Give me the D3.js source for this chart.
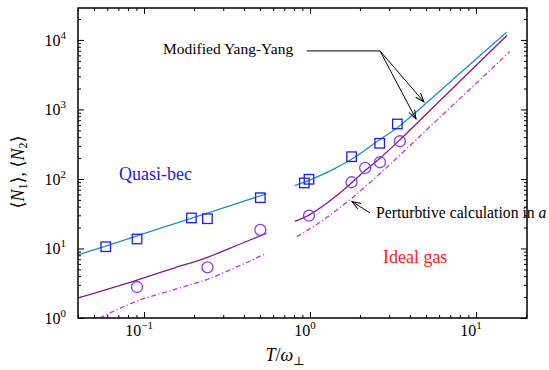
<!DOCTYPE html>
<html>
<head>
<meta charset="utf-8">
<script src="https://cdn.jsdelivr.net/npm/d3@7"></script>
<style>
  body { margin: 0; background: #fff; }
  text { font-family: "Liberation Serif", "Times New Roman", "DejaVu Serif", serif; }
</style>
</head>
<body>
<div id="wrapper"></div>
<script>
// markers (simulation)
const squareT = [0.0588, 0.0907, 0.193, 0.241, 0.502, 0.924, 0.986, 1.78, 2.63, 3.36];
const squareN = [10.6, 13.7, 27.5, 26.8, 53.8, 87.6, 99, 209, 326, 618];
const circleT = [0.0907, 0.241, 0.502, 0.986, 1.78, 2.15, 2.64, 3.48];
const circleN = [2.79, 5.36, 18.5, 29.6, 89.7, 144, 174, 349];

// modified Yang-Yang, <N1>
const yy1LowT = [0.04, 0.06, 0.09, 0.13, 0.19, 0.27, 0.38, 0.546];
const yy1LowN = [8.1, 11.0, 15.1, 20.1, 26.9, 35.3, 46.1, 61.2];
const yy1HighT = [0.81, 1.0, 1.4, 1.78, 2.6, 3.4, 4.6, 8, 15.3];
const yy1HighN = [80, 97, 140, 192, 360, 560, 1027, 3320, 12900];

// modified Yang-Yang, <N2>
const yy2LowT = [0.04, 0.0907, 0.15, 0.241, 0.38, 0.546];
const yy2LowN = [1.94, 3.52, 5.19, 7.47, 11.6, 16.5];
const yy2HighT = [0.81, 0.99, 1.4, 1.78, 2.15, 2.64, 3.48, 4.6, 8, 15.4];
const yy2HighN = [24.5, 30.5, 54, 88, 132, 199, 365, 700, 2550, 11700];

// perturbative calculation
const pertLowT = [0.054, 0.0907, 0.15, 0.241, 0.38, 0.533];
const pertLowN = [1.0, 1.75, 2.54, 3.6, 5.7, 8.3];
const pertHighT = [0.832, 1.2, 1.78, 3, 5.16, 8, 16];
const pertHighN = [14.8, 25.6, 52.7, 158, 536, 1431, 6790];

// ticks
const xMajor = [0.1, 1, 10];
const xMajorExp = ["\u22121", "0", "1"];
const yMajor = [1, 10, 100, 1000, 10000];
const yMajorExp = ["0", "1", "2", "3", "4"];

const zip = (a, b) => a.map((v, i) => [v, b[i]]);

const dms = {
  width: 549,
  height: 370,
  margins: { top: 8, right: 22, bottom: 52, left: 78 }
};
dms.innerWidth = dms.width - dms.margins.left - dms.margins.right;
dms.innerHeight = dms.height - dms.margins.top - dms.margins.bottom;

const svg = d3.select("#wrapper")
  .append("svg")
    .attr("width", dms.width)
    .attr("height", dms.height)
    .attr("font-family", "Liberation Serif, Times New Roman, serif");

const inner = svg.append("g")
  .attr("transform", `translate(${dms.margins.left},${dms.margins.top})`);

const xScale = d3.scaleLog().domain([0.04, 20.3]).range([0, dms.innerWidth]);
const yScale = d3.scaleLog().domain([1, 28800]).range([dms.innerHeight, 0]);

svg.append("defs").append("clipPath").attr("id", "clip")
  .append("rect").attr("width", dms.innerWidth).attr("height", dms.innerHeight);

svg.select("defs").append("marker")
  .attr("id", "arrow")
  .attr("markerUnits", "userSpaceOnUse")
  .attr("viewBox", "-10 -5 12 10")
  .attr("refX", 0).attr("refY", 0)
  .attr("markerWidth", 12).attr("markerHeight", 10)
  .attr("orient", "auto")
  .append("path")
    .attr("d", "M-9,-3.2L0,0L-9,3.2")
    .attr("fill", "none")
    .attr("stroke", "#000")
    .attr("stroke-width", 1);

// ticks
const minorOf = (domain) => {
  const out = [];
  for (let e = -3; e <= 6; e++) {
    for (let m = 2; m <= 9; m++) {
      const v = m * Math.pow(10, e);
      if (v >= domain[0] && v <= domain[1]) out.push(v);
    }
  }
  return out;
};
const xMinor = minorOf(xScale.domain());
const yMinor = minorOf(yScale.domain());

function tickAxis(gen, values, size, transform) {
  const g = inner.append("g")
    .attr("transform", transform)
    .call(gen.tickValues(values).tickSize(size).tickSizeOuter(0).tickFormat(""));
  g.select(".domain").remove();
  g.selectAll(".tick line").attr("stroke", "#000").attr("stroke-width", 1);
  return g;
}
tickAxis(d3.axisBottom(xScale), xMajor, -6, `translate(0,${dms.innerHeight})`);
tickAxis(d3.axisBottom(xScale), xMinor, -3, `translate(0,${dms.innerHeight})`);
tickAxis(d3.axisTop(xScale), xMajor, -6, "translate(0,0)");
tickAxis(d3.axisTop(xScale), xMinor, -3, "translate(0,0)");
tickAxis(d3.axisLeft(yScale), yMajor, -6, "translate(0,0)");
tickAxis(d3.axisLeft(yScale), yMinor, -3, "translate(0,0)");
tickAxis(d3.axisRight(yScale), yMajor, -6, `translate(${dms.innerWidth},0)`);
tickAxis(d3.axisRight(yScale), yMinor, -3, `translate(${dms.innerWidth},0)`);

// tick labels with superscripts
const xLabels = inner.append("g").selectAll("text")
  .data(xMajor)
  .join("text")
    .attr("x", d => xScale(d) - 5)
    .attr("y", dms.innerHeight + 18)
    .attr("text-anchor", "middle")
    .style("font-size", "16px");
xLabels.append("tspan").text("10");
xLabels.append("tspan")
  .attr("dy", -7)
  .style("font-size", "11px")
  .text((d, i) => xMajorExp[i]);

const yLabels = inner.append("g").selectAll("text")
  .data(yMajor)
  .join("text")
    .attr("x", -12)
    .attr("y", d => yScale(d) + 6)
    .attr("text-anchor", "end")
    .style("font-size", "16px");
yLabels.append("tspan").text("10");
yLabels.append("tspan")
  .attr("dy", -7)
  .style("font-size", "11px")
  .text((d, i) => yMajorExp[i]);

// curves
const line = d3.line()
  .x(d => xScale(d[0]))
  .y(d => yScale(d[1]))
  .curve(d3.curveMonotoneX);

const plot = inner.append("g").attr("clip-path", "url(#clip)");

const curves = [
  { pts: zip(yy1LowT, yy1LowN), color: "#1f8dd0", dash: null },
  { pts: zip(yy1HighT, yy1HighN), color: "#1f8dd0", dash: null },
  { pts: zip(yy2LowT, yy2LowN), color: "#8c1490", dash: null },
  { pts: zip(yy2HighT, yy2HighN), color: "#8c1490", dash: null },
  { pts: zip(pertLowT, pertLowN), color: "#cc30d8", dash: "5,2.5,1.2,2.5" },
  { pts: zip(pertHighT, pertHighN), color: "#cc30d8", dash: "5,2.5,1.2,2.5" }
];

plot.selectAll("path.curve")
  .data(curves)
  .join("path")
    .attr("class", "curve")
    .attr("d", d => line(d.pts))
    .attr("fill", "none")
    .attr("stroke", d => d.color)
    .attr("stroke-width", 1.3)
    .attr("stroke-dasharray", d => d.dash);

// markers
const sq = 9.5;
plot.selectAll("rect.sq")
  .data(zip(squareT, squareN))
  .join("rect")
    .attr("class", "sq")
    .attr("x", d => xScale(d[0]) - sq / 2)
    .attr("y", d => yScale(d[1]) - sq / 2)
    .attr("width", sq)
    .attr("height", sq)
    .attr("fill", "none")
    .attr("stroke", "#1c1cf0")
    .attr("stroke-width", 1.3);

plot.selectAll("circle.ci")
  .data(zip(circleT, circleN))
  .join("circle")
    .attr("class", "ci")
    .attr("cx", d => xScale(d[0]))
    .attr("cy", d => yScale(d[1]))
    .attr("r", 5.5)
    .attr("fill", "none")
    .attr("stroke", "#8a3ce6")
    .attr("stroke-width", 1.3);

// frame
inner.append("rect")
  .attr("width", dms.innerWidth)
  .attr("height", dms.innerHeight)
  .attr("fill", "none")
  .attr("stroke", "#000")
  .attr("stroke-width", 1.5);

// annotations (data coordinates)
const P = (t, n) => [xScale(t), yScale(n)];

const yyLabel = P(0.13, 6290);
inner.append("text")
  .attr("x", yyLabel[0]).attr("y", yyLabel[1])
  .style("font-size", "15.5px")
  .text("Modified Yang-Yang");

const leadA = P(0.955, 6950), leadB = P(2.64, 6950);
inner.append("line")
  .attr("x1", leadA[0]).attr("y1", leadA[1])
  .attr("x2", leadB[0]).attr("y2", leadB[1])
  .attr("stroke", "#000").attr("stroke-width", 1);

const arrowTips = [[4.86, 1282], [4.35, 730]];
inner.selectAll("line.arr")
  .data(arrowTips)
  .join("line")
    .attr("class", "arr")
    .attr("x1", leadB[0]).attr("y1", leadB[1])
    .attr("x2", d => xScale(d[0])).attr("y2", d => yScale(d[1]))
    .attr("stroke", "#000").attr("stroke-width", 1)
    .attr("marker-end", "url(#arrow)");

const pA = P(2.30, 32.4), pB = P(1.79, 47.5);
inner.append("line")
  .attr("x1", pA[0]).attr("y1", pA[1])
  .attr("x2", pB[0]).attr("y2", pB[1])
  .attr("stroke", "#000").attr("stroke-width", 1)
  .attr("marker-end", "url(#arrow)");

const pLabel = P(2.50, 27.5);
const pText = inner.append("text")
  .attr("x", pLabel[0]).attr("y", pLabel[1])
  .style("font-size", "15.7px");
pText.append("tspan").text("Perturbtive calculation in ");
pText.append("tspan").style("font-style", "italic").text("a");

const qLabel = P(0.0707, 96.8);
inner.append("text")
  .attr("x", qLabel[0]).attr("y", qLabel[1])
  .attr("fill", "#2020e8")
  .style("font-size", "18px")
  .text("Quasi-bec");

const iLabel = P(2.75, 6.19);
inner.append("text")
  .attr("x", iLabel[0]).attr("y", iLabel[1])
  .attr("fill", "#ff2020")
  .style("font-size", "18px")
  .text("Ideal gas");

// axis titles
const yTitle = svg.append("text")
  .attr("transform", "translate(24,172) rotate(-90)")
  .attr("text-anchor", "middle")
  .style("font-size", "18px");
yTitle.append("tspan").text("\u27E8");
yTitle.append("tspan").style("font-style", "italic").text("N");
yTitle.append("tspan").attr("dy", 3).style("font-size", "12px").text("1");
yTitle.append("tspan").attr("dy", -3).text("\u27E9, \u27E8");
yTitle.append("tspan").style("font-style", "italic").text("N");
yTitle.append("tspan").attr("dy", 3).style("font-size", "12px").text("2");
yTitle.append("tspan").attr("dy", -3).text("\u27E9");

const xTitle = svg.append("text")
  .attr("x", 285)
  .attr("y", 361)
  .attr("text-anchor", "middle")
  .style("font-size", "18px");
xTitle.append("tspan").style("font-style", "italic").text("T");
xTitle.append("tspan").text("/");
xTitle.append("tspan").style("font-style", "italic").text("\u03C9");
xTitle.append("tspan").attr("dy", 4).style("font-size", "12px").text("\u22A5");
</script>
</body>
</html>
